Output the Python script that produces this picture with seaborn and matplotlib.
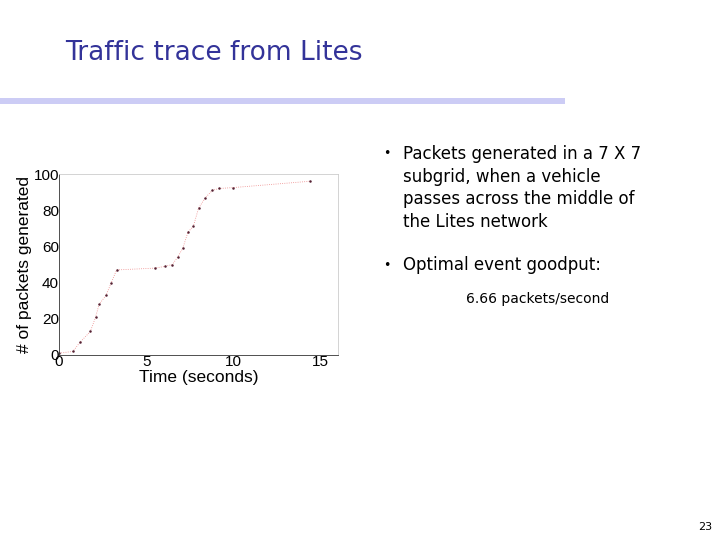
import matplotlib
matplotlib.use("Agg")
import matplotlib.pyplot as plt
import seaborn as sns
import pandas as pd

time_s = [0, 0.8, 1.2, 1.8, 2.1, 2.3, 2.7, 3.0, 3.3, 5.5, 6.1, 6.5, 6.8, 7.1, 7.4, 7.7, 8.0, 8.4, 8.8, 9.2, 10.0, 14.4]
packets = [1, 2, 7, 13, 21, 28, 33, 40, 47, 48, 49, 50, 54, 59, 68, 71, 81, 87, 91, 92, 92.5, 96]
xticks = [0, 5, 10, 15]
yticks = [0, 20, 40, 60, 80, 100]

sns.set_style("white")
plt.rcParams['font.family'] = ['DejaVu Sans']
plt.rcParams['text.color'] = 'black'
df = pd.DataFrame({"t": time_s, "p": packets})

fig = plt.figure(figsize=(7.2, 5.4), dpi=100)
fig.text(65/720, 1-53/540, "Traffic trace from Lites", fontsize=19, color="#333399",
         va="center", ha="left")
fig.add_artist(plt.Rectangle((0, 1-104/540), 565/720, 6/540, transform=fig.transFigure,
                             color="#ccccf5", lw=0))

ax = fig.add_axes([59/720, 1-355/540, 279/720, 181/540])
sns.lineplot(data=df, x="t", y="p", ax=ax, color="#ee8888", lw=0.6, linestyle=":",
             marker="o", markersize=1.8, markerfacecolor="#552233", markeredgewidth=0)
ax.set_xlim(0, 16)
ax.set_ylim(0, 100)
ax.set_xticks(xticks)
ax.set_yticks(yticks)
ax.tick_params(labelsize=11, pad=0, length=2, direction="in", colors="black")
for t in ax.get_xticklabels() + ax.get_yticklabels():
    t.set_family(["Liberation Sans"])
ax.set_xlabel("Time (seconds)", fontsize=12.5, family=["Liberation Sans"], labelpad=1, color="black")
ax.set_ylabel("# of packets generated", fontsize=12.5, family=["Liberation Sans"], labelpad=1, color="black")
for s in ax.spines.values():
    s.set_color("#cccccc")
    s.set_linewidth(0.6)
ax.spines["left"].set_color("#333333")
ax.spines["bottom"].set_color("#333333")

fig.text(383/720, 1-153/540, "•", fontsize=9, va="center")
fig.text(403/720, 1-188/540, "Packets generated in a 7 X 7\nsubgrid, when a vehicle\npasses across the middle of\nthe Lites network",
         fontsize=12, va="center", ha="left", linespacing=1.35)
fig.text(383/720, 1-265/540, "•", fontsize=9, va="center")
fig.text(403/720, 1-265/540, "Optimal event goodput:", fontsize=12, va="center")
fig.text(466/720, 1-299/540, "6.66 packets/second", fontsize=10, va="center")
fig.text(712/720, 1-527/540, "23", fontsize=8, ha="right", va="center")
fig.savefig("out.png", dpi=100)
